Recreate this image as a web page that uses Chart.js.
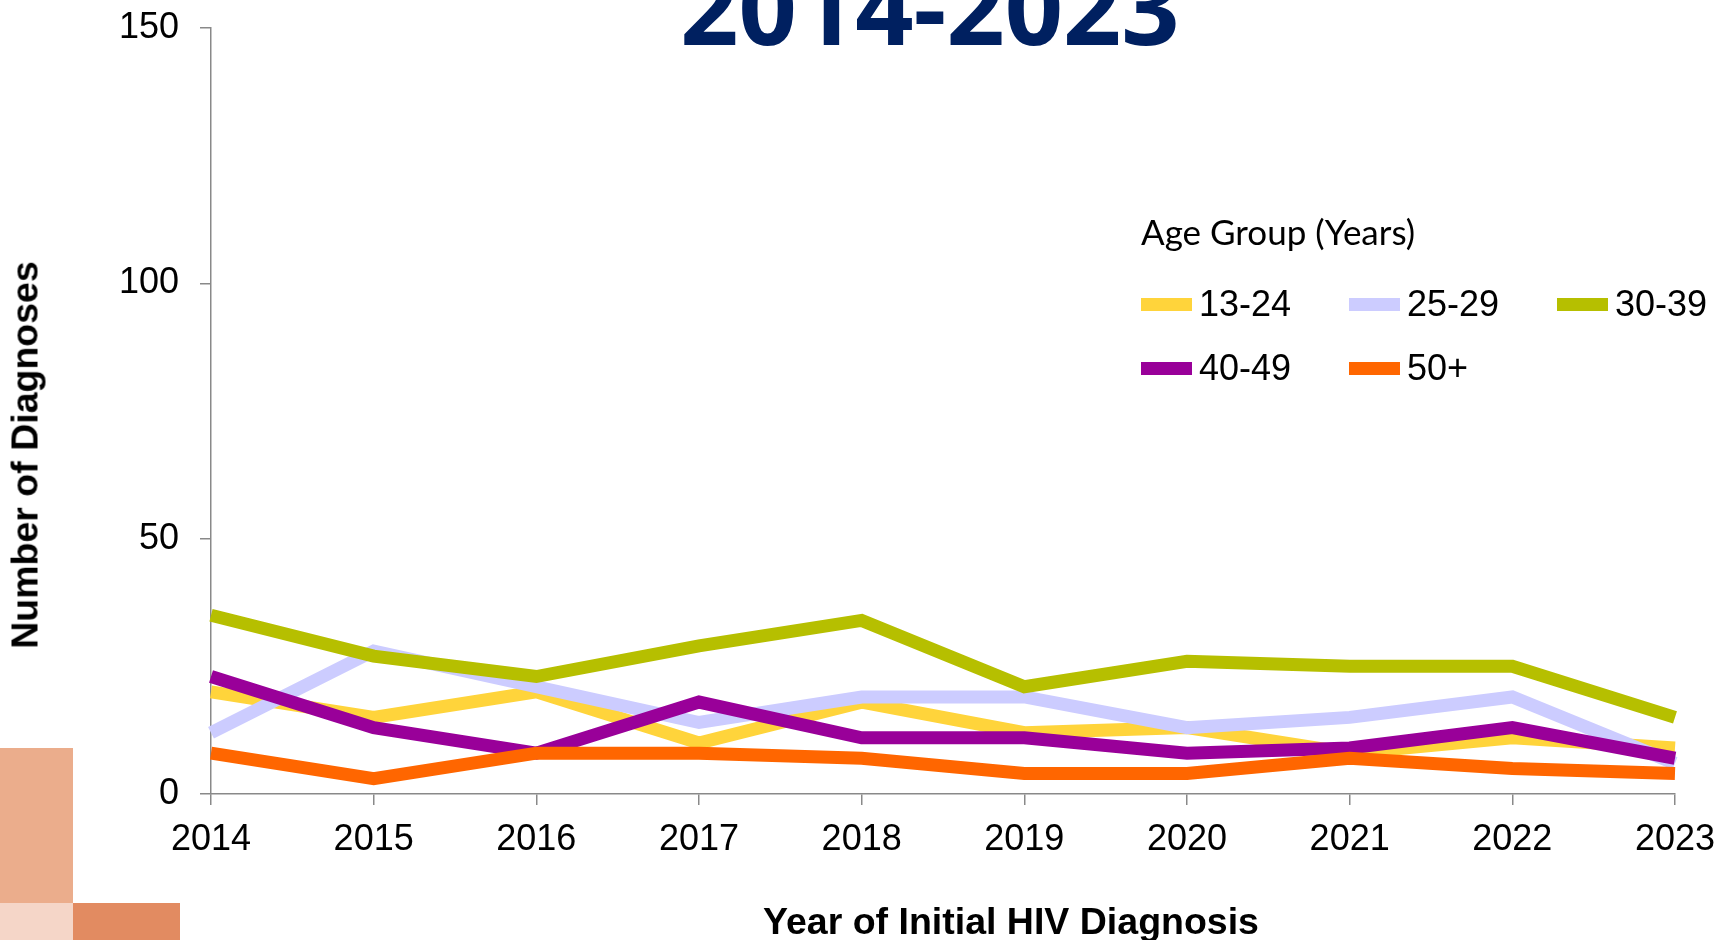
<!DOCTYPE html>
<html>
<head>
<meta charset="utf-8">
<script src="https://cdn.jsdelivr.net/npm/chart.js@4.4.1/dist/chart.umd.min.js"></script>
<style>
    body { margin: 0; background: #fff; }
    #wrap { position: relative; width: 1720px; height: 940px; overflow: hidden; }
    #wrap canvas { position: absolute; left: 0; top: 0; }
    .title {
        position: absolute; left: 0; width: 1860px; top: -45px;
        text-align: center; font-family: 'Open Sans', sans-serif; font-weight: 700;
        font-size: 102px; line-height: 102px; color: #002060;
    }
    .yTitle {
        position: absolute; left: 25px; top: 455px;
        transform: translate(-50%, -50%) rotate(-90deg);
        font-family: 'Liberation Sans', Arial, sans-serif; font-weight: bold; font-size: 37.5px;
        white-space: nowrap; color: #000;
    }
    .xTitle {
        position: absolute; left: 1011px; top: 921px;
        transform: translate(-50%, -50%);
        font-family: 'Liberation Sans', Arial, sans-serif; font-weight: bold; font-size: 37.5px;
        white-space: nowrap; color: #000;
    }
    .deco { position: absolute; }
    #legend { position: absolute; left: 1141px; top: 208px; }
    #legend .lgTitle { font-family: Lato, sans-serif; font-size: 35px; line-height: 46px; color: #000; }
    #legend .items { display: grid; grid-template-columns: repeat(3, 208px); grid-auto-rows: 64px; margin-top: 18px; }
    #legend .item { display: flex; align-items: center; font-family: 'Liberation Sans', Arial, sans-serif; font-size: 36px; color: #000; height: 64px; }
    #legend .sw { width: 51px; height: 13px; margin-right: 7px; }
</style>
</head>
<body>
<div id="wrap">
    <canvas id="trendChart"></canvas>
    <div class="title">2014-2023</div>
    <div class="yTitle">Number of Diagnoses</div>
    <div class="xTitle">Year of Initial HIV Diagnosis</div>
    <div class="deco" style="left:0;top:748px;width:73px;height:155px;background:#EBAD8C"></div>
    <div class="deco" style="left:0;top:903px;width:73px;height:37px;background:#F5D6C8"></div>
    <div class="deco" style="left:73px;top:903px;width:107px;height:37px;background:#E28B61"></div>
    <div id="legend">
        <div class="lgTitle">Age Group (Years)</div>
        <div class="items"></div>
    </div>
</div>
<script>
const years = ['2014', '2015', '2016', '2017', '2018', '2019', '2020', '2021', '2022', '2023'];
const ageGroups = ['13-24', '25-29', '30-39', '40-49', '50+'];
const groupColors = ['#FFD43B', '#CCCCFF', '#B6BF00', '#990099', '#FF6600'];

const age13to24 = [20, 15, 20, 10, 18, 12, 13, 8, 11, 9];
const age25to29 = [12, 28, 21, 14, 19, 19, 13, 15, 19, 6];
const age30to39 = [35, 27, 23, 29, 34, 21, 26, 25, 25, 15];
const age40to49 = [23, 13, 8, 18, 11, 11, 8, 9, 13, 7];
const age50plus = [8, 3, 8, 8, 7, 4, 4, 7, 5, 4];

const yTicks = [0, 50, 100, 150];

const seriesValues = [age13to24, age25to29, age30to39, age40to49, age50plus];
const axisColor = '#898989';
const tickFont = { family: "'Liberation Sans', Arial, sans-serif", size: 36 };

// later groups are drawn on top, like the original
const datasets = ageGroups.map(function (name, i) {
    return {
        label: name,
        data: seriesValues[i],
        borderColor: groupColors[i],
        backgroundColor: groupColors[i],
        borderWidth: 13,
        borderJoinStyle: 'miter',
        borderCapStyle: 'butt',
        pointRadius: 0,
        tension: 0,
        order: ageGroups.length - 1 - i
    };
});

// legend built from the same arrays
const legendBox = document.querySelector('#legend .items');
ageGroups.forEach(function (name, i) {
    const item = document.createElement('div');
    item.className = 'item';
    const sw = document.createElement('span');
    sw.className = 'sw';
    sw.style.background = groupColors[i];
    item.appendChild(sw);
    item.appendChild(document.createTextNode(name));
    legendBox.appendChild(item);
});

const ctx = document.getElementById('trendChart').getContext('2d');
new Chart(ctx, {
    type: 'line',
    data: {
        labels: years,
        datasets: datasets
    },
    options: {
        responsive: true,
        maintainAspectRatio: false,
        animation: false,
        layout: {
            padding: { top: 28, right: 45, bottom: 0, left: 0 }
        },
        plugins: {
            legend: { display: false },
            tooltip: { enabled: false }
        },
        scales: {
            x: {
                offset: false,
                grid: {
                    drawOnChartArea: false,
                    drawTicks: true,
                    tickLength: 11,
                    color: axisColor,
                    lineWidth: 1.5
                },
                border: { color: axisColor, width: 1.5 },
                ticks: {
                    color: '#000',
                    font: tickFont,
                    padding: 13,
                    maxRotation: 0,
                    autoSkip: false
                },
                afterFit: function (scale) {
                    scale.height = 146;
                    // let the end labels hang over the page edge like the original
                    scale.paddingLeft = 0;
                    scale.paddingRight = 0;
                }
            },
            y: {
                min: yTicks[0],
                max: yTicks[yTicks.length - 1],
                grid: {
                    drawOnChartArea: false,
                    drawTicks: true,
                    tickLength: 11,
                    color: axisColor,
                    lineWidth: 1.5
                },
                border: { color: axisColor, width: 1.5 },
                ticks: {
                    stepSize: yTicks[1] - yTicks[0],
                    color: '#000',
                    font: tickFont,
                    padding: 21
                },
                afterFit: function (scale) {
                    scale.width = 211;
                    scale.paddingTop = 0;
                    scale.paddingBottom = 0;
                }
            }
        }
    }
});
</script>
</body>
</html>
